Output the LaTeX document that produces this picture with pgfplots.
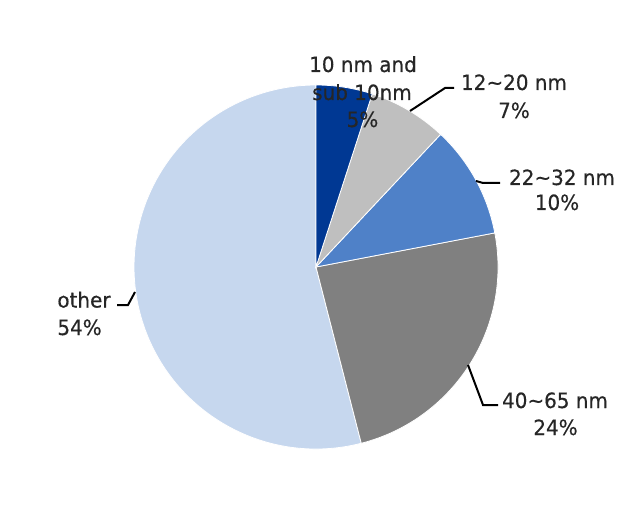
\documentclass[border=0pt]{standalone}
\usepackage{pgfplots}
\pgfplotsset{compat=1.18}
\usepackage{fontspec}
\setmainfont{DejaVu Sans}[FakeStretch=0.95,FakeBold=0.4]
\definecolor{s1}{HTML}{003893}
\definecolor{s2}{HTML}{BFBFBF}
\definecolor{s3}{HTML}{4F81C8}
\definecolor{s4}{HTML}{808080}
\definecolor{s5}{HTML}{C6D7EE}
\definecolor{txt}{HTML}{262626}
% shares (%): 10nm and sub 10nm 5, 12~20nm 7, 22~32nm 10, 40~65nm 24, other 54
% angles (deg, clockwise from 90): 90,72,46.8,10.8,-75.6,-270
\begin{document}
\begin{tikzpicture}[lbl/.style={font=\fontsize{10.5}{12}\selectfont, text=txt, inner sep=0pt}]
\begin{axis}[
  x=0.5pt, y=0.5pt, y dir=reverse,
  xmin=0, xmax=640, ymin=0, ymax=507,
  hide axis, clip=false, scale only axis,
]
\path (axis cs:0,0) rectangle (axis cs:640,507);
\fill[s5,draw=white,line width=0.4pt] (axis cs:316,267) -- ++(-75.6:91pt) arc[start angle=-75.6,end angle=-270,radius=91pt] -- cycle;
\fill[s4,draw=white,line width=0.4pt] (axis cs:316,267) -- ++(10.8:91pt) arc[start angle=10.8,end angle=-75.6,radius=91pt] -- cycle;
\fill[s3,draw=white,line width=0.4pt] (axis cs:316,267) -- ++(46.8:91pt) arc[start angle=46.8,end angle=10.8,radius=91pt] -- cycle;
\fill[s2,draw=white,line width=0.4pt] (axis cs:316,267) -- ++(72:91pt) arc[start angle=72,end angle=46.8,radius=91pt] -- cycle;
\fill[s1,draw=white,line width=0.4pt] (axis cs:316,267) -- ++(90:91pt) arc[start angle=90,end angle=72,radius=91pt] -- cycle;
% leader lines
\draw[black,line width=1pt] (axis cs:410,111) -- (axis cs:445,88) -- (axis cs:454,88);
\draw[black,line width=1pt] (axis cs:476,181) -- (axis cs:483,183) -- (axis cs:500,183);
\draw[black,line width=1pt] (axis cs:117,305) -- (axis cs:128,305) -- (axis cs:135,292);
\draw[black,line width=1pt] (axis cs:468,365) -- (axis cs:483,405) -- (axis cs:498,405);
% labels
\node[lbl,anchor=base] at (axis cs:363,72) {10 nm and};
\node[lbl,anchor=base] at (axis cs:362,100) {sub 10nm};
\node[lbl,anchor=base] at (axis cs:362.5,127) {5\%};
\node[lbl,anchor=base] at (axis cs:514,90) {12\char`~20 nm};
\node[lbl,anchor=base] at (axis cs:514,118) {7\%};
\node[lbl,anchor=base] at (axis cs:562,185) {22\char`~32 nm};
\node[lbl,anchor=base] at (axis cs:557,210) {10\%};
\node[lbl,anchor=base west] at (axis cs:57,307.5) {other};
\node[lbl,anchor=base west] at (axis cs:57,335) {54\%};
\node[lbl,anchor=base] at (axis cs:555,408) {40\char`~65 nm};
\node[lbl,anchor=base] at (axis cs:555.5,435) {24\%};
\end{axis}
\end{tikzpicture}
\end{document}
